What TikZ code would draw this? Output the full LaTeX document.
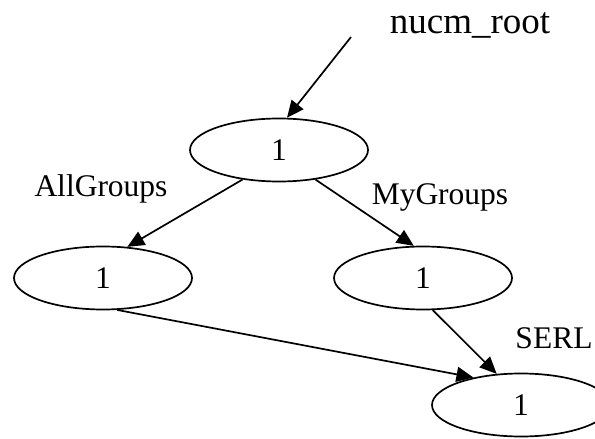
\documentclass[tikz,border=0pt]{standalone}
\usepackage{fontspec}
\setmainfont{Liberation Serif}
\usetikzlibrary{shapes.geometric,arrows.meta}
\begin{document}
\begin{tikzpicture}[x=1pt,y=-1pt,
  nd/.style={draw,ellipse,line width=1.7pt,minimum width=178pt,minimum height=63pt,inner sep=0pt,
    font=\fontsize{31.5}{36}\selectfont},
  lbl/.style={inner sep=0pt,anchor=base,font=\fontsize{31.5}{36}\selectfont},
  arr/.style={line width=1.7pt,-{Triangle[length=17pt,width=15pt]}}]
\clip (0,0) rectangle (595,439);
\fill[white] (0,0) rectangle (595,439);
\node[nd] (n1) at (279,150) {1};
\node[nd] (n2) at (103,278) {1};
\node[nd] (n3) at (423,278) {1};
\node[nd] (n4) at (521,405) {1};
\coordinate (rs) at (351,37);
\node[lbl,font=\fontsize{37}{42}\selectfont] (lroot) at (470,33) {nucm\_root};
\node[lbl] (lall) at (101,196) {AllGroups};
\node[lbl] (lmy) at (440,204) {MyGroups};
\node[lbl] (lserl) at (554,348) {SERL};
\draw[arr] (rs) -- (n1.76);
\draw[arr] (n1.219) -- (n2.52);
\draw[arr] (n1.321) -- (n3.106);
\draw[arr] (n2.294) -- (n4.150);
\draw[arr] (n3.287) -- (n4.128);
\end{tikzpicture}
\end{document}
